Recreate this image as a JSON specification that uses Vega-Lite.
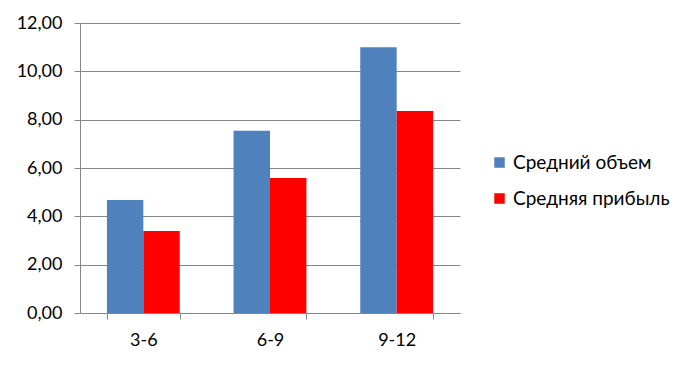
{
  "$schema": "https://vega.github.io/schema/vega-lite/v6.json",
  "width": 380,
  "height": 290,
  "autosize": {"type": "none"},
  "padding": {"left": 80, "top": 23, "right": 229, "bottom": 52},
  "background": "white",
  "data": {
    "values": [
      {"cat": "3-6", "series": "Средний объем", "value": 4.68},
      {"cat": "3-6", "series": "Средняя прибыль", "value": 3.39},
      {"cat": "6-9", "series": "Средний объем", "value": 7.54},
      {"cat": "6-9", "series": "Средняя прибыль", "value": 5.59},
      {"cat": "9-12", "series": "Средний объем", "value": 11.0},
      {"cat": "9-12", "series": "Средняя прибыль", "value": 8.36}
    ]
  },
  "mark": {"type": "bar"},
  "encoding": {
    "x": {
      "field": "cat",
      "type": "nominal",
      "sort": ["3-6", "6-9", "9-12"],
      "scale": {"paddingInner": 0.425, "paddingOuter": 0.2125},
      "axis": {
        "title": null,
        "labelAngle": 0,
        "labelFont": "Lato",
        "labelFontSize": 18,
        "labelColor": "#000000",
        "labelPadding": 12,
        "domainColor": "#868686",
        "tickColor": "#868686",
        "tickSize": 6,
        "tickBand": "extent",
        "grid": false
      }
    },
    "xOffset": {"field": "series", "type": "nominal", "sort": ["Средний объем", "Средняя прибыль"], "scale": {"paddingInner": 0, "paddingOuter": 0}},
    "y": {
      "field": "value",
      "type": "quantitative",
      "scale": {"domain": [0, 12], "nice": false},
      "axis": {
        "title": null,
        "values": [0, 2, 4, 6, 8, 10, 12],
        "labelExpr": "replace(format(datum.value, '.2f'), '.', ',')",
        "labelFont": "Lato",
        "labelFontSize": 18,
        "labelColor": "#000000",
        "labelPadding": 12,
        "domainColor": "#868686",
        "tickColor": "#868686",
        "tickSize": 6,
        "gridColor": "#868686",
        "gridWidth": 1
      }
    },
    "color": {
      "field": "series",
      "type": "nominal",
      "sort": ["Средний объем", "Средняя прибыль"],
      "scale": {"domain": ["Средний объем", "Средняя прибыль"], "range": ["#4F81BD", "#FF0000"]},
      "legend": {
        "title": null,
        "orient": "none",
        "legendX": 410,
        "legendY": 130,
        "symbolType": "square",
        "symbolSize": 110,
        "symbolStrokeWidth": 0,
        "labelFont": "Lato",
        "labelFontSize": 19,
        "labelColor": "#000000",
        "labelOffset": 4,
        "rowPadding": 16
      }
    }
  },
  "config": {"view": {"stroke": null}}
}
